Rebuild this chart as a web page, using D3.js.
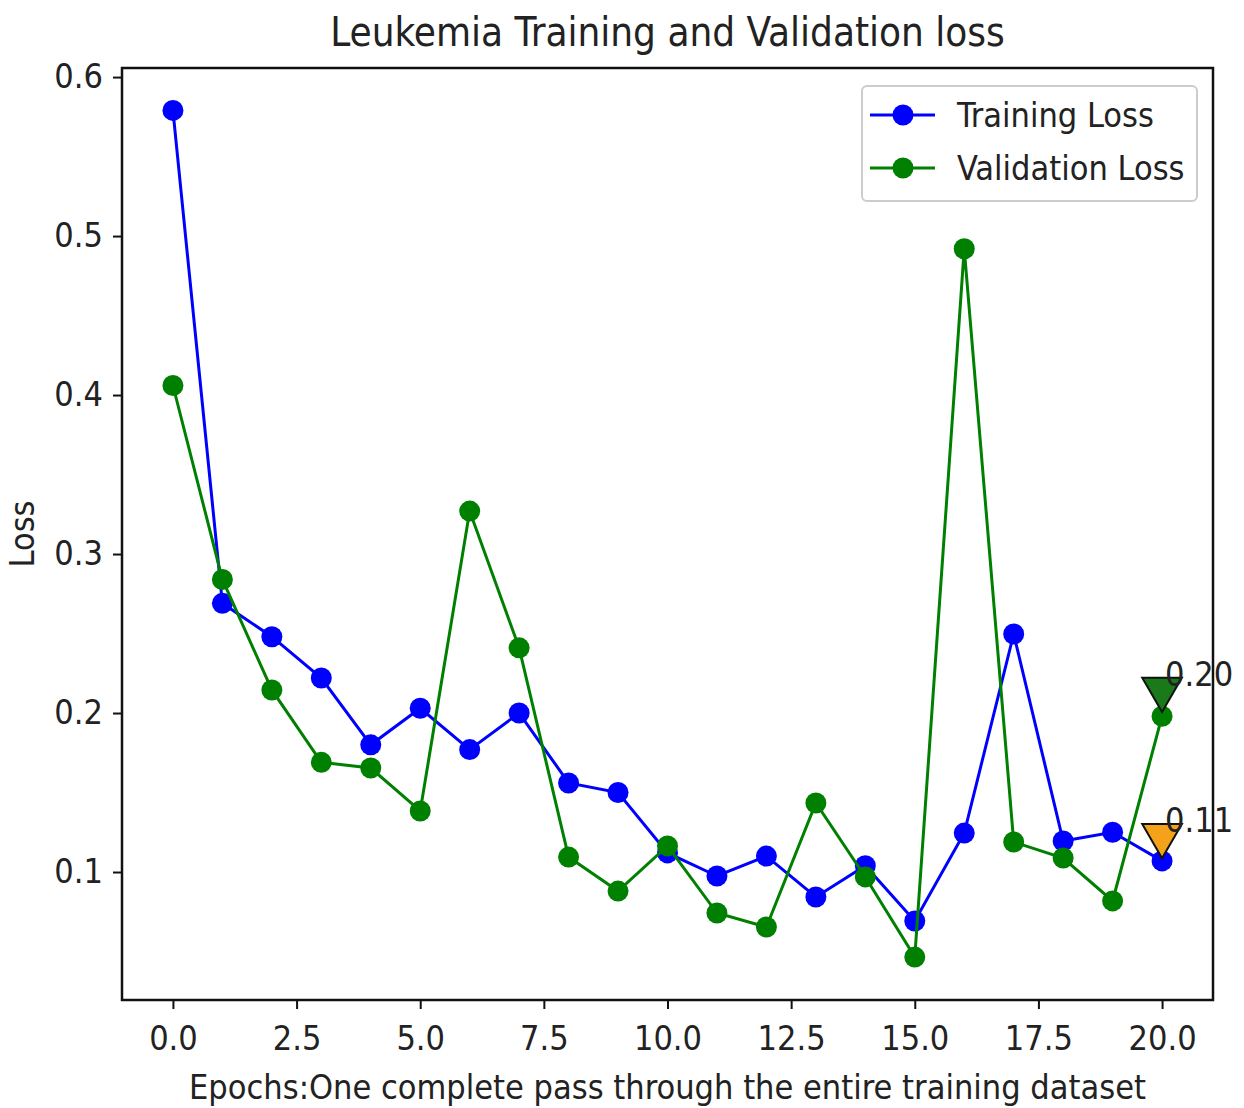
<!DOCTYPE html>
<html>
<head>
<meta charset="utf-8">
<script src="https://cdn.jsdelivr.net/npm/d3@7"></script>
<style>
  body { margin: 0; background: #fff; }
  text { font-family: "DejaVu Sans Condensed", "DejaVu Sans", sans-serif; fill: #222; }
</style>
</head>
<body>
<div id="chart"></div>
<script>
/* Leukemia training and validation loss per epoch */

const epochs = d3.range(0, 21);
const trainingLoss = [0.579, 0.269, 0.248, 0.222, 0.180, 0.203, 0.177, 0.200, 0.156, 0.150, 0.112,
                      0.0975, 0.110, 0.0843, 0.104, 0.0692, 0.1245, 0.2497, 0.1195, 0.125, 0.107];
const validationLoss = [0.406, 0.284, 0.2145, 0.169, 0.1654, 0.1384, 0.327, 0.241, 0.1094, 0.088, 0.1164,
                        0.0742, 0.0654, 0.1434, 0.0969, 0.0465, 0.492, 0.1189, 0.1088, 0.0818, 0.198];
const xTicks = [0, 2.5, 5, 7.5, 10, 12.5, 15, 17.5, 20];
const yTicks = [0.1, 0.2, 0.3, 0.4, 0.5, 0.6];
// best-epoch markers
const markers = [
    { epoch: 20, value: 0.215, label: "0.20", color: "#1a7a1a" },
    { epoch: 20, value: 0.123, label: "0.11", color: "#f5a21b" }
];

const width = 1244,
      height = 1108,
      margin = ({ top: 68, right: 31, bottom: 108, left: 122 });

let svg = d3.select("#chart")
    .append("svg")
    .attr("width", width)
    .attr("height", height);

const x = d3.scaleLinear()
    .domain([-1.03, 21.03])
    .range([margin.left, width - margin.right]);

const y = d3.scaleLinear()
    .domain([0.0195, 0.6057])
    .range([height - margin.bottom, margin.top]);

/* axes */
const xAxis = g => g
    .attr("transform", `translate(0, ${height - margin.bottom})`)
    .call(d3.axisBottom(x).tickValues(xTicks).tickFormat(d3.format(".1f")).tickSize(9).tickPadding(17));

const yAxis = g => g
    .attr("transform", `translate(${margin.left}, 0)`)
    .call(d3.axisLeft(y).tickValues(yTicks).tickFormat(d3.format(".1f")).tickSize(9).tickPadding(10));

svg.append("g").call(xAxis);
svg.append("g").call(yAxis);

svg.selectAll(".domain").remove();
svg.selectAll(".tick line").attr("stroke", "#111").attr("stroke-width", 2);
svg.selectAll(".tick text").style("font-size", "34px").attr("fill", "#222");

/* frame */
svg.append("rect")
    .attr("x", margin.left)
    .attr("y", margin.top)
    .attr("width", width - margin.left - margin.right)
    .attr("height", height - margin.top - margin.bottom)
    .attr("fill", "none")
    .attr("stroke", "#111")
    .attr("stroke-width", 2.5);

/* lines */
const series = [
    { name: "Training Loss", values: trainingLoss, color: "#0000ff" },
    { name: "Validation Loss", values: validationLoss, color: "#008000" }
];

const line = d3.line()
    .x((d, i) => x(epochs[i]))
    .y(d => y(d));

for (let s of series) {
    svg.append("path")
        .datum(s.values)
        .attr("fill", "none")
        .attr("stroke", s.color)
        .attr("stroke-width", 3)
        .attr("d", line);

    svg.append("g")
        .selectAll("circle")
        .data(s.values)
        .join("circle")
        .attr("cx", (d, i) => x(epochs[i]))
        .attr("cy", d => y(d))
        .attr("r", 10.5)
        .attr("fill", s.color);
}

/* triangle markers with labels */
const tri = d3.symbol().type(d3.symbolTriangle).size(680);
for (let m of markers) {
    svg.append("path")
        .attr("d", tri)
        .attr("transform", `translate(${x(m.epoch)}, ${y(m.value)}) rotate(180)`)
        .attr("fill", m.color)
        .attr("stroke", "#111")
        .attr("stroke-width", 2);

    svg.append("text")
        .attr("x", x(m.epoch) + 3)
        .attr("y", y(m.value) - 3)
        .style("font-size", "34px")
        .text(m.label);
}

/* legend */
const legend = svg.append("g").attr("transform", "translate(862, 86)");
legend.append("rect")
    .attr("width", 335)
    .attr("height", 115)
    .attr("rx", 5)
    .attr("fill", "#fff")
    .attr("stroke", "#ccc")
    .attr("stroke-width", 2);

series.forEach((s, i) => {
    let row = legend.append("g").attr("transform", `translate(0, ${29 + i * 53})`);
    row.append("line")
        .attr("x1", 8).attr("x2", 73)
        .attr("stroke", s.color)
        .attr("stroke-width", 3);
    row.append("circle")
        .attr("cx", 41)
        .attr("r", 10.5)
        .attr("fill", s.color);
    row.append("text")
        .attr("x", 95)
        .attr("dy", "0.35em")
        .style("font-size", "34px")
        .text(s.name);
});

/* titles */
svg.append("text")
    .attr("x", (margin.left + width - margin.right) / 2)
    .attr("y", 46)
    .attr("text-anchor", "middle")
    .style("font-size", "40px")
    .text("Leukemia Training and Validation loss");

svg.append("text")
    .attr("x", (margin.left + width - margin.right) / 2)
    .attr("y", 1099)
    .attr("text-anchor", "middle")
    .style("font-size", "34px")
    .text("Epochs:One complete pass through the entire training dataset");

svg.append("text")
    .attr("transform", `translate(34, ${(margin.top + height - margin.bottom) / 2}) rotate(-90)`)
    .attr("text-anchor", "middle")
    .style("font-size", "34px")
    .text("Loss");
</script>
</body>
</html>
